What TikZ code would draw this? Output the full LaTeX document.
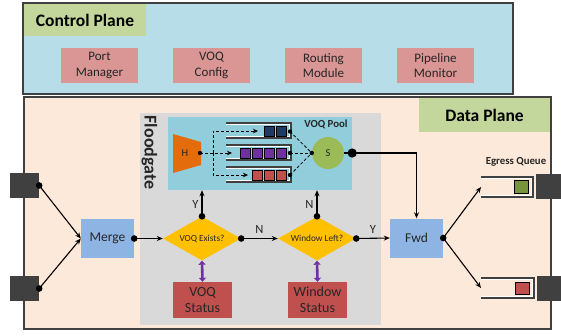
\documentclass[tikz,border=0pt]{standalone}
\usepackage{fontspec}
\setmainfont{Carlito}
\usetikzlibrary{arrows.meta,shapes.geometric}

\definecolor{cpfill}{HTML}{B7DEE8}
\definecolor{titlegreen}{HTML}{C3D69B}
\definecolor{ctlred}{HTML}{D99694}
\definecolor{dpfill}{HTML}{FDE9D9}
\definecolor{fggray}{HTML}{D9D9D9}
\definecolor{poolblue}{HTML}{92CDDC}
\definecolor{horange}{HTML}{E46C0A}
\definecolor{navy}{HTML}{1F3B63}
\definecolor{voqpurple}{HTML}{7030A0}
\definecolor{qred}{HTML}{C0504D}
\definecolor{sgreen}{HTML}{9BBB59}
\definecolor{diamy}{HTML}{FFC000}
\definecolor{mblue}{HTML}{8DB4E2}
\definecolor{portgray}{HTML}{404040}
\definecolor{egreen}{HTML}{77933C}
\definecolor{linegray}{HTML}{404040}
\definecolor{txt}{HTML}{262626}

\newcommand{\fsz}[2]{\fontsize{#1}{#2}\selectfont}

% open-left queue outline: dark outer line with a thin white inner line
\newcommand{\qshape}[4]{%
  \draw[linegray, line width=1.3pt] (#1,#2) -| (#3,#4) -- (#1,#4);
  \draw[white, line width=0.5pt] (#1,{#2+1.3}) -| ({#3-1.3},{#4-1.3}) -- (#1,{#4-1.3});
}

\tikzset{
  plane/.style={rectangle, draw=linegray, line width=1.2pt, inner sep=0pt, outer sep=0pt},
  titlebox/.style={rectangle, fill=titlegreen, inner sep=0pt, font=\bfseries\fsz{17.5}{20}},
  ctl/.style={rectangle, fill=ctlred, inner sep=0pt, minimum width=77pt, minimum height=35pt,
    align=center, text=txt, font=\fsz{13}{15.5}},
  proc/.style={rectangle, fill=mblue, inner sep=0pt, minimum width=53pt, minimum height=39pt,
    text=txt, font=\fsz{13.5}{15}},
  decide/.style={diamond, fill=diamy, inner sep=0pt, minimum width=78pt, minimum height=44pt,
    aspect=1.77, text=txt, font=\fsz{9.3}{11}},
  statusbox/.style={rectangle, fill=qred, inner sep=0pt, minimum width=59pt, minimum height=36pt,
    align=center, text=txt, font=\fsz{14}{16}},
  port/.style={rectangle, fill=portgray, inner sep=0pt, minimum width=29pt, minimum height=25pt},
  cell/.style={rectangle, draw=black, line width=0.6pt, inner sep=0pt, minimum size=10pt},
  arr/.style={-{Stealth[length=6pt,width=5pt]}, line width=1.1pt},
  darr/.style={-{Stealth[length=5pt,width=4.5pt]}, line width=0.8pt, dash pattern=on 3pt off 2pt},
  dline/.style={line width=0.8pt, dash pattern=on 3pt off 2pt},
  bidir/.style={{Triangle[length=4pt,width=7pt]}-{Triangle[length=4pt,width=7pt]}, line width=2.6pt, voqpurple},
  yn/.style={inner sep=0pt, font=\fsz{12.5}{14}, text=txt},
  smalllbl/.style={inner sep=0pt, font=\bfseries\fsz{10.8}{12}, text=txt},
}

\begin{document}
\begin{tikzpicture}[x=1pt,y=-1pt]
\useasboundingbox (0,0) rectangle (561,335);

% ---------- control plane ----------
\node[plane, fill=cpfill, minimum width=490pt, minimum height=91pt] (cp) at (268,48.5) {};
\node[titlebox, minimum width=122pt, minimum height=32pt] (cpt) at (85,20) {Control Plane};
\node[ctl] (pm) at (99.5,65.5) {Port\\Manager};
\node[ctl] (vc) at (211.5,65.5) {VOQ\\Config};
\node[ctl] (rm) at (323.5,65.5) {Routing\\Module};
\node[ctl] (plm) at (435.5,65.5) {Pipeline\\Monitor};

% ---------- data plane ----------
\node[plane, fill=dpfill, minimum width=527pt, minimum height=232pt] (dp) at (287.5,213) {};
\node[titlebox, minimum width=131pt, minimum height=34pt] (dpt) at (484.5,115) {Data Plane};

% floodgate block
\node[rectangle, fill=fggray, inner sep=0pt, minimum width=241pt, minimum height=212pt] (fg) at (260.5,219) {};
\node[rotate=-90, inner sep=0pt, font=\bfseries\fsz{18}{20}, text=txt] (fgl) at (149.5,152.5) {Floodgate};

% VOQ pool
\node[rectangle, fill=poolblue, inner sep=0pt, minimum width=184pt, minimum height=73pt] (pool) at (260,153.5) {};
\node[smalllbl] (pooll) at (326,124) {VOQ Pool};

% hashing stage
\fill[horange] (173,134) -- (201,142) -- (201,165) -- (173,173) -- cycle;
\node[inner sep=0pt, font=\fsz{10.5}{12}, text=txt] (h) at (185,153.5) {H};
\coordinate (hd) at (200,153);
\coordinate (hs) at (213,153);

% queues
\qshape{226}{123}{291}{138}
\qshape{226}{145}{291}{160}
\qshape{226}{167}{291}{182}
\foreach \cx [count=\i] in {281,269} \node[cell, fill=navy] (a\i) at (\cx,131.5) {};
\foreach \cx [count=\i] in {281,269,257,245} \node[cell, fill=voqpurple] (b\i) at (\cx,153) {};
\foreach \cx [count=\i] in {281,269,257} \node[cell, fill=qred] (c\i) at (\cx,175) {};

% dispatch paths into the queues
\draw[darr] (hd) -- (232,153);
\draw[darr] (hs) |- (258,131);
\draw[darr] (hs) |- (248,175);

% scheduler
\node[circle, fill=sgreen, inner sep=0pt, minimum size=32pt, font=\fsz{10.5}{12}, text=txt] (s) at (328,153) {S};
\coordinate (qa) at (290,131.5);
\coordinate (qb) at (290,153);
\coordinate (qc) at (290,175);
\coordinate (sj) at (s.west);
\draw[dline] (qa) -- (sj);
\draw[dline] (qb) -- (sj);
\draw[dline] (qc) -- (sj);
\foreach \p in {hd,qa,qb,qc,sj} \fill (\p) circle (2.2pt);

% ports
\node[port] (p1) at (24.5,185.5) {};
\node[port] (p2) at (24.5,288.5) {};
\node[port, minimum width=30pt] (p3) at (551,186.5) {};
\node[port, minimum width=30pt] (p4) at (552,288.5) {};

% processing blocks
\node[proc] (merge) at (107.5,238.5) {Merge};
\node[decide] (d1) at (202,238.5) {VOQ Exists?};
\node[decide] (d2) at (317,238.5) {Window Left?};
\node[proc] (fwd) at (416.5,238) {Fwd};
\node[statusbox] (vs) at (202.5,300) {VOQ\\Status};
\node[statusbox] (ws) at (317.5,300) {Window\\Status};

% egress queues
\qshape{481}{177}{533}{197}
\qshape{481}{278}{534}{298}
\node[rectangle, draw=black, line width=0.6pt, fill=egreen, inner sep=0pt, minimum width=14pt, minimum height=13pt] (eg1) at (521,186.5) {};
\node[rectangle, draw=black, line width=0.6pt, fill=qred, inner sep=0pt, minimum width=14pt, minimum height=12pt] (eg2) at (522.5,288) {};
\node[smalllbl] (egl) at (516,162) {Egress Queue};
\coordinate (eq1) at (481,187);
\coordinate (eq2) at (481,288);

% connectors
\coordinate (so) at (pool.east |- s);
\draw[line width=1.1pt] (s.east) -- (so);
\draw[arr] (so) -| (fwd.north);
\fill (so) circle (4.6pt);

\draw[arr] (p1.east) -- (merge.west);
\draw[arr] (p2.east) -- (merge.west);
\draw[arr] (merge.east) -- (d1.west);
\draw[arr] (d1.east) -- node[yn, above=4pt] (n1) {N} (d2.west);
\draw[arr] (d2.east) -- node[yn, above=4pt] (y2) {Y} (fwd.west);
\draw[arr] (d1.north) -- (d1.north |- pool.south) node[yn, pos=0.45, left=3pt] (y1) {Y};
\draw[arr] (d2.north) -- (d2.north |- pool.south) node[yn, pos=0.45, left=3pt] (n2) {N};
\draw[arr] (fwd.east) -- (eq1);
\draw[arr] (fwd.east) -- (eq2);
\draw[bidir] (d1.south) -- (vs.north);
\draw[bidir] (d2.south) -- (ws.north);
\foreach \p in {p1.east,p2.east,merge.east,d1.east,d2.east,d1.north,d2.north,fwd.east}
  \fill (\p) circle (3.3pt);
\end{tikzpicture}
\end{document}
